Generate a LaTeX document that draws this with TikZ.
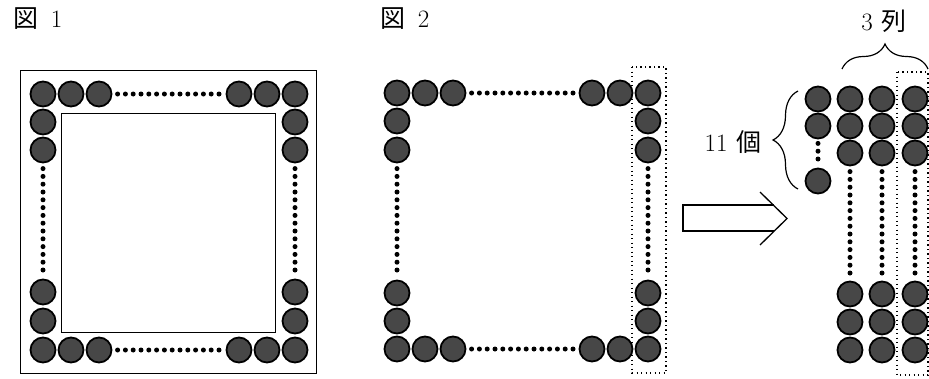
\documentclass[tikz,border=0pt]{standalone}
\usepackage{fontspec}
\newfontfamily\cjk{Noto Sans CJK JP}
\usetikzlibrary{positioning,decorations.pathreplacing}

\begin{document}
\begin{tikzpicture}[
    x=1pt, y=-1pt,
    every node/.style={align=center},
    ball/.style={circle, draw=black, fill=black!72, line width=1.8pt, minimum size=25pt, inner sep=0pt},
    dotrow/.style={line width=5pt, line cap=round, dash pattern=on 0pt off 7.8pt, shorten <=5.2pt, shorten >=5.2pt},
    frame/.style={draw=black, line width=1pt},
    selbox/.style={draw=black, line width=1.3pt, dash pattern=on 1.3pt off 3.2pt},
    figtext/.style={font=\fontsize{25}{28}\selectfont, inner sep=0pt},
    bracket/.style={decorate, decoration={brace, amplitude=25pt}, line width=1.2pt},
    hollow/.style={line width=1.3pt, line join=miter}
]
\useasboundingbox (0,0) rectangle (929,378);

% Titles
\node[figtext] (title1) at (38,19) {{\cjk 図}\hspace{12pt}1};
\node[figtext] (title2) at (405,19) {{\cjk 図}\hspace{12pt}2};

% Figure 1: frames
\draw[frame] (20,70) rectangle (316,373);
\draw[frame] (61,113) rectangle (275,332);

% Figure 1: balls
\foreach \n/\x in {1/43, 2/71, 3/99, 4/239, 5/267, 6/295} {
    \node[ball] (pt\n) at (\x,94) {};
    \node[ball] (pb\n) at (\x,350) {};
}
\foreach \n/\y in {2/122, 3/150, 4/292, 5/321} {
    \node[ball] (pl\n) at (43,\y) {};
    \node[ball] (pr\n) at (295,\y) {};
}
\draw[dotrow] (pt3) -- (pt4);
\draw[dotrow] (pb3) -- (pb4);
\draw[dotrow] (pl3) -- (pl4);
\draw[dotrow] (pr3) -- (pr4);

% Figure 2: balls
\foreach \n/\x in {1/397, 2/425, 3/453, 4/592, 5/620, 6/648} {
    \node[ball] (qt\n) at (\x,93) {};
    \node[ball] (qb\n) at (\x,349) {};
}
\foreach \n/\y in {2/121, 3/150, 4/293, 5/321} {
    \node[ball] (ql\n) at (397,\y) {};
    \node[ball] (qr\n) at (648,\y) {};
}
\draw[dotrow] (qt3) -- (qt4);
\draw[dotrow] (qb3) -- (qb4);
\draw[dotrow] (ql3) -- (ql4);
\draw[dotrow] (qr3) -- (qr4);
\draw[selbox] (632,67) rectangle (666,373);

% Hollow arrow
\draw[hollow] (773.5,205) -- (683,205) -- (683,231) -- (774,231);
\draw[hollow] (760,192) -- (787,218.5) -- (760,245);

% Rearranged columns
\node[ball] (c1a) at (818,99) {};
\node[ball] (c1b) at (818,126) {};
\node[ball] (c1c) at (818,181) {};
\draw[dotrow, shorten <=4pt, shorten >=1pt] (c1b) -- (c1c);
\foreach \n/\x in {2/850, 3/882, 4/915} {
    \node[ball] (c\n a) at (\x,99) {};
    \node[ball] (c\n b) at (\x,126) {};
    \node[ball] (c\n c) at (\x,153) {};
    \node[ball] (c\n d) at (\x,294) {};
    \node[ball] (c\n e) at (\x,322) {};
    \node[ball] (c\n f) at (\x,350) {};
    \draw[dotrow] (c\n c) -- (c\n d);
}
\draw[selbox] (897,72) rectangle (928,375);

% Braces and counts
\draw[bracket] (842,69) -- (928,69);
\node[figtext] (cols) at (884,21) {3\hspace{9pt}{\cjk 列}};
\draw[bracket] (798,189) -- (798,91);
\node[figtext] (count) at (733,142) {11\hspace{9pt}{\cjk 個}};

\end{tikzpicture}
\end{document}
